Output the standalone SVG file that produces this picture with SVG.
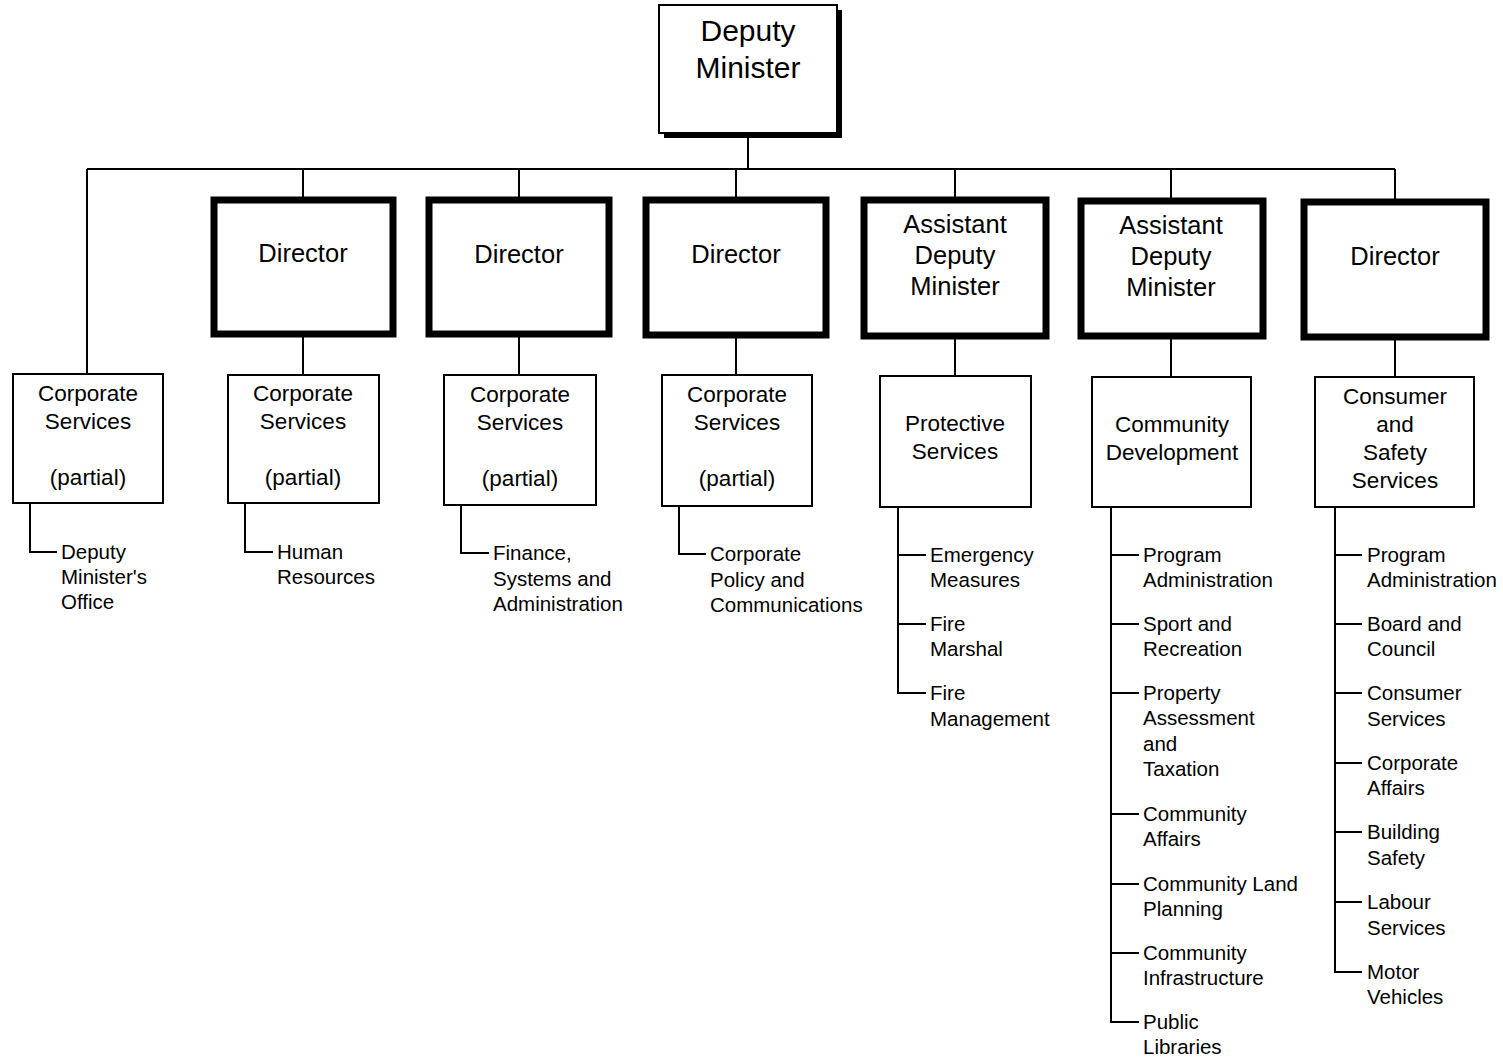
<svg xmlns="http://www.w3.org/2000/svg" width="1503" height="1060" viewBox="0 0 1503 1060">
<style>
text{font-family:"Liberation Sans",Arial,sans-serif;fill:#000}
.top{font-size:30px;text-anchor:middle}
.dir{font-size:25.5px;text-anchor:middle}
.box{font-size:22.5px;text-anchor:middle}
.sub{font-size:20.5px}
.thick{fill:#fff;stroke:#000;stroke-width:7}
.thin{fill:#fff;stroke:#000;stroke-width:2}
#connectors path{fill:none;stroke:#000;stroke-width:2}
</style>
<rect width="1503" height="1060" fill="#fff"/>
<g id="connectors">
<path d="M748 137V169M87 169H1395M87 169V374M303 169V199M519 169V199M736 169V199M955 169V199M1171 169V199M1395 169V201"/>
<path d="M303 335V375M519 335V375M736 335V375M955 337V376M1171 337V377M1395 338V377"/>
<path d="M30 503V552H57"/>
<path d="M245 503V552H273"/>
<path d="M461 505V553H489"/>
<path d="M679 506V554H706"/>
<path d="M898 507V693H926M898 555H926M898 624H926"/>
<path d="M1111 507V1022H1139M1111 555H1139M1111 624H1139M1111 693H1139M1111 814H1139M1111 884H1139M1111 953H1139"/>
<path d="M1335 507V972H1362M1335 555H1362M1335 624H1362M1335 693H1362M1335 763H1362M1335 832H1362M1335 902H1362"/>
</g>
<g id="deputy-minister">
<rect x="664" y="10" width="178" height="128" fill="#000"/>
<rect x="659" y="5" width="178" height="128" class="thin" stroke-width="2.5"/>
<text class="top" x="748" y="41">Deputy</text>
<text class="top" x="748" y="78">Minister</text>
</g>
<g id="director-1">
<rect x="214" y="200" width="179" height="134" class="thick"/>
<text class="dir" x="303" y="262">Director</text>
</g>
<g id="director-2">
<rect x="429" y="200" width="180" height="134" class="thick"/>
<text class="dir" x="519" y="263">Director</text>
</g>
<g id="director-3">
<rect x="646" y="200" width="180" height="135" class="thick"/>
<text class="dir" x="736" y="263">Director</text>
</g>
<g id="adm-1">
<rect x="864" y="200" width="182" height="136" class="thick"/>
<text class="dir" x="955" y="233">Assistant</text>
<text class="dir" x="955" y="264">Deputy</text>
<text class="dir" x="955" y="295">Minister</text>
</g>
<g id="adm-2">
<rect x="1081" y="201" width="182" height="135" class="thick"/>
<text class="dir" x="1171" y="234">Assistant</text>
<text class="dir" x="1171" y="265">Deputy</text>
<text class="dir" x="1171" y="296">Minister</text>
</g>
<g id="director-4">
<rect x="1304" y="202" width="182" height="135" class="thick"/>
<text class="dir" x="1395" y="265">Director</text>
</g>
<g id="corp-1">
<rect x="13" y="374" width="150" height="129" class="thin"/>
<text class="box" x="88" y="401">Corporate</text>
<text class="box" x="88" y="429">Services</text>
<text class="box" x="88" y="485">(partial)</text>
</g>
<g id="corp-2">
<rect x="228" y="375" width="151" height="128" class="thin"/>
<text class="box" x="303" y="401">Corporate</text>
<text class="box" x="303" y="429">Services</text>
<text class="box" x="303" y="485">(partial)</text>
</g>
<g id="corp-3">
<rect x="444" y="375" width="152" height="130" class="thin"/>
<text class="box" x="520" y="402">Corporate</text>
<text class="box" x="520" y="430">Services</text>
<text class="box" x="520" y="486">(partial)</text>
</g>
<g id="corp-4">
<rect x="662" y="375" width="150" height="131" class="thin"/>
<text class="box" x="737" y="402">Corporate</text>
<text class="box" x="737" y="430">Services</text>
<text class="box" x="737" y="486">(partial)</text>
</g>
<g id="protective">
<rect x="880" y="376" width="151" height="131" class="thin"/>
<text class="box" x="955" y="431">Protective</text>
<text class="box" x="955" y="459">Services</text>
</g>
<g id="community">
<rect x="1092" y="377" width="159" height="130" class="thin"/>
<text class="box" x="1172" y="432">Community</text>
<text class="box" x="1172" y="460">Development</text>
</g>
<g id="consumer">
<rect x="1315" y="377" width="159" height="130" class="thin"/>
<text class="box" x="1395" y="404">Consumer</text>
<text class="box" x="1395" y="432">and</text>
<text class="box" x="1395" y="460">Safety</text>
<text class="box" x="1395" y="488">Services</text>
</g>
<g id="sub-1" class="sub">
<text x="61" y="559">Deputy</text>
<text x="61" y="584">Minister's</text>
<text x="61" y="609">Office</text>
</g>
<g id="sub-2" class="sub">
<text x="277" y="559">Human</text>
<text x="277" y="584">Resources</text>
</g>
<g id="sub-3" class="sub">
<text x="493" y="560">Finance,</text>
<text x="493" y="586">Systems and</text>
<text x="493" y="611">Administration</text>
</g>
<g id="sub-4" class="sub">
<text x="710" y="561">Corporate</text>
<text x="710" y="587">Policy and</text>
<text x="710" y="612">Communications</text>
</g>
<g id="sub-5" class="sub">
<text x="930" y="562">Emergency</text>
<text x="930" y="587">Measures</text>
<text x="930" y="631">Fire</text>
<text x="930" y="656">Marshal</text>
<text x="930" y="700">Fire</text>
<text x="930" y="726">Management</text>
</g>
<g id="sub-6" class="sub">
<text x="1143" y="562">Program</text>
<text x="1143" y="587">Administration</text>
<text x="1143" y="631">Sport and</text>
<text x="1143" y="656">Recreation</text>
<text x="1143" y="700">Property</text>
<text x="1143" y="725">Assessment</text>
<text x="1143" y="751">and</text>
<text x="1143" y="776">Taxation</text>
<text x="1143" y="821">Community</text>
<text x="1143" y="846">Affairs</text>
<text x="1143" y="891">Community Land</text>
<text x="1143" y="916">Planning</text>
<text x="1143" y="960">Community</text>
<text x="1143" y="985">Infrastructure</text>
<text x="1143" y="1029">Public</text>
<text x="1143" y="1054">Libraries</text>
</g>
<g id="sub-7" class="sub">
<text x="1367" y="562">Program</text>
<text x="1367" y="587">Administration</text>
<text x="1367" y="631">Board and</text>
<text x="1367" y="656">Council</text>
<text x="1367" y="700">Consumer</text>
<text x="1367" y="726">Services</text>
<text x="1367" y="770">Corporate</text>
<text x="1367" y="795">Affairs</text>
<text x="1367" y="839">Building</text>
<text x="1367" y="865">Safety</text>
<text x="1367" y="909">Labour</text>
<text x="1367" y="935">Services</text>
<text x="1367" y="979">Motor</text>
<text x="1367" y="1004">Vehicles</text>
</g>
</svg>
